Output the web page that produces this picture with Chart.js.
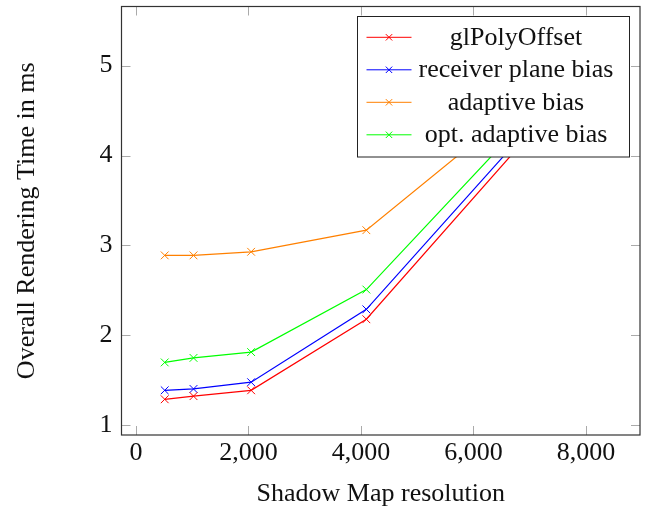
<!DOCTYPE html>
<html>
<head>
<meta charset="utf-8">
<script src="https://cdn.jsdelivr.net/npm/chart.js@4"></script>
<style>
    html, body { margin: 0; padding: 0; background: #fff; }
    #wrap { width: 651px; height: 509px; position: relative; }
</style>
</head>
<body>
<div id="wrap"><canvas id="renderChart"></canvas></div>
<script>
    // shadow map sizes and timings (ms)
    const resolutions    = [512, 1024, 2048, 4096, 8192];
    const glPolyOffset   = [1.29, 1.325, 1.39, 2.18, 5.08];
    const receiverPlane  = [1.39, 1.405, 1.48, 2.29, 5.15];
    const adaptiveBias   = [2.89, 2.89, 2.93, 3.17, 5.26];
    const optAdaptive    = [1.70, 1.75, 1.815, 2.51, 5.24];
    const seriesLabels   = ['glPolyOffset', 'receiver plane bias', 'adaptive bias', 'opt. adaptive bias'];
    const xTicks         = [0, 2000, 4000, 6000, 8000];
    const yTicks         = [1, 2, 3, 4, 5];

    const serif = '"Liberation Serif", "Times New Roman", serif';

    document.addEventListener('DOMContentLoaded', () => {
        const ctx = document.getElementById('renderChart').getContext('2d');

        const toPoints = (ys) => resolutions.map((x, i) => ({ x, y: ys[i] }));

        const series = (label, values, color) => ({
            label,
            data: toPoints(values),
            borderColor: color,
            backgroundColor: color,
            borderWidth: 1.2,
            pointStyle: 'crossRot',
            pointRadius: 5.5,
            pointBorderWidth: 1,
            pointHoverRadius: 5.5,
            tension: 0,
        });

        // pgfplots-like frame with inward ticks on all four sides
        const framePlugin = {
            id: 'frame',
            afterDraw(chart) {
                const { ctx, chartArea: a, scales } = chart;
                const len = 9;
                ctx.save();
                ctx.strokeStyle = '#aaaaaa';
                ctx.lineWidth = 1;
                ctx.beginPath();
                xTicks.forEach((v) => {
                    const px = Math.round(scales.x.getPixelForValue(v)) + 0.5;
                    ctx.moveTo(px, a.bottom); ctx.lineTo(px, a.bottom - len);
                    ctx.moveTo(px, a.top);    ctx.lineTo(px, a.top + len);
                });
                yTicks.forEach((v) => {
                    const py = Math.round(scales.y.getPixelForValue(v)) + 0.5;
                    ctx.moveTo(a.left, py);  ctx.lineTo(a.left + len, py);
                    ctx.moveTo(a.right, py); ctx.lineTo(a.right - len, py);
                });
                ctx.stroke();
                ctx.strokeStyle = '#333333';
                ctx.lineWidth = 1.2;
                ctx.strokeRect(a.left, a.top, a.right - a.left, a.bottom - a.top);
                ctx.restore();
            },
        };

        // opaque boxed legend, text centred in its column
        const boxLegend = {
            id: 'boxLegend',
            afterDatasetsDraw(chart) {
                const { ctx, chartArea: a } = chart;
                const right = a.right - 10.5, top = a.top + 10;
                const w = 272, h = 140.5;
                const left = right - w;
                ctx.save();
                ctx.fillStyle = '#fff';
                ctx.fillRect(left, top, w, h);
                ctx.strokeStyle = '#222';
                ctx.lineWidth = 1;
                ctx.strokeRect(left, top, w, h);
                ctx.font = '26px ' + serif;
                ctx.textAlign = 'center';
                ctx.textBaseline = 'alphabetic';
                chart.data.datasets.forEach((ds, i) => {
                    const base = top + 28.3 + i * 32.5;
                    const ly = base - 7.5;
                    ctx.strokeStyle = ds.borderColor;
                    ctx.lineWidth = 1;
                    ctx.beginPath();
                    ctx.moveTo(left + 9, ly); ctx.lineTo(left + 54, ly);
                    const mx = left + 31.5, r = 3.2;
                    ctx.moveTo(mx - r, ly - r); ctx.lineTo(mx + r, ly + r);
                    ctx.moveTo(mx - r, ly + r); ctx.lineTo(mx + r, ly - r);
                    ctx.stroke();
                    ctx.fillStyle = '#111';
                    ctx.fillText(ds.label, left + 158.5, base);
                });
                ctx.restore();
            },
        };

        new Chart(ctx, {
            type: 'line',
            data: {
                datasets: [
                    series(seriesLabels[0], glPolyOffset, '#ff0000'),
                    series(seriesLabels[1], receiverPlane, '#0000ff'),
                    series(seriesLabels[2], adaptiveBias, '#ff8000'),
                    series(seriesLabels[3], optAdaptive, '#00ff00'),
                ],
            },
            options: {
                responsive: true,
                maintainAspectRatio: false,
                animation: false,
                layout: { padding: { top: 5, right: 11, bottom: 0, left: 0 } },
                plugins: {
                    legend: { display: false },
                    tooltip: { enabled: false },
                },
                scales: {
                    x: {
                        type: 'linear',
                        min: -256,
                        max: 8960,
                        grid: { display: false, drawTicks: false },
                        border: { display: false },
                        afterBuildTicks: (s) => { s.ticks = xTicks.map((value) => ({ value })); },
                        afterFit: (s) => { s.height = 74; s.paddingLeft = 0; s.paddingRight = 0; },
                        ticks: {
                            padding: 3,
                            maxRotation: 0,
                            color: '#111',
                            font: { family: serif, size: 26 },
                            callback: (v) => v.toLocaleString('en-US'),
                        },
                        title: {
                            display: true,
                            text: 'Shadow Map resolution',
                            color: '#111',
                            font: { family: serif, size: 26, lineHeight: 1 },
                            padding: { top: 0, bottom: 2 },
                        },
                    },
                    y: {
                        min: 0.893,
                        max: 5.657,
                        grid: { display: false, drawTicks: false },
                        border: { display: false },
                        afterBuildTicks: (s) => { s.ticks = yTicks.map((value) => ({ value })); },
                        afterFit: (s) => { s.width = 121.5; s.paddingTop = 0; s.paddingBottom = 0; },
                        ticks: {
                            padding: 9,
                            color: '#111',
                            font: { family: serif, size: 26 },
                        },
                        title: {
                            display: true,
                            text: 'Overall Rendering Time in ms',
                            color: '#111',
                            font: { family: serif, size: 26, lineHeight: 1 },
                            padding: { top: 14, bottom: 0 },
                        },
                    },
                },
            },
            plugins: [boxLegend, framePlugin],
        });
    });
</script>
</body>
</html>
